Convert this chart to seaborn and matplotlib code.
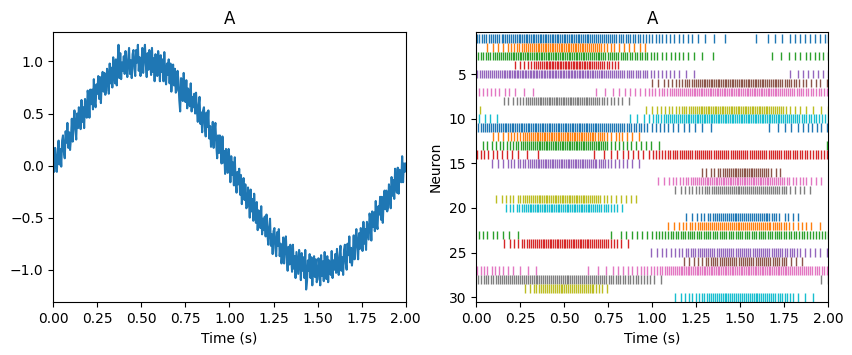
import numpy as np
import pandas as pd
import matplotlib
matplotlib.use("Agg")
import matplotlib.pyplot as plt
import seaborn as sns

# decoded value of ensemble A, every 5 ms (0.000 .. 2.000 s)
signal = [
    0.00, -0.06, 0.17, 0.03, -0.06, 0.14, 0.24, 0.01, 0.16, -0.01,
    0.24, 0.29, 0.13, 0.07, 0.33, 0.22, 0.41, 0.17, 0.32, 0.15,
    0.26, 0.45, 0.23, 0.42, 0.53, 0.35, 0.25, 0.50, 0.36, 0.56,
    0.47, 0.35, 0.63, 0.42, 0.56, 0.36, 0.64, 0.56, 0.46, 0.72,
    0.65, 0.46, 0.73, 0.59, 0.73, 0.54, 0.83, 0.61, 0.56, 0.78,
    0.69, 0.86, 0.64, 0.85, 0.60, 0.80, 0.90, 0.71, 0.89, 0.68,
    0.72, 0.93, 0.86, 0.69, 0.98, 0.79, 0.94, 0.75, 1.04, 0.87,
    0.79, 1.02, 0.77, 0.98, 1.16, 0.84, 1.08, 0.83, 0.99, 0.91,
    1.05, 0.88, 1.10, 0.95, 0.85, 1.03, 1.13, 0.88, 1.01, 0.84,
    1.07, 1.11, 0.93, 0.86, 1.11, 0.99, 1.16, 0.91, 1.04, 0.86,
    0.95, 1.13, 0.89, 1.07, 1.16, 0.97, 0.85, 1.08, 0.92, 1.11,
    1.01, 0.87, 1.13, 0.90, 1.03, 0.81, 1.07, 0.98, 0.86, 1.10,
    1.01, 0.81, 1.06, 0.90, 1.02, 0.81, 1.09, 0.85, 0.78, 0.98,
    0.87, 1.02, 0.79, 0.98, 0.71, 0.89, 0.97, 0.77, 0.93, 0.70,
    0.72, 0.91, 0.82, 0.63, 0.52, 0.84, 0.83, 0.62, 0.89, 0.71,
    0.61, 0.82, 0.55, 0.74, 0.68, 0.57, 0.79, 0.52, 0.66, 0.56,
    0.69, 0.50, 0.70, 0.53, 0.42, 0.58, 0.66, 0.40, 0.51, 0.32,
    0.53, 0.56, 0.37, 0.28, 0.51, 0.37, 0.53, 0.26, 0.38, 0.18,
    0.26, 0.42, 0.17, 0.33, 0.41, 0.20, 0.07, 0.29, 0.12, 0.29,
    0.18, 0.02, 0.28, 0.03, 0.14, -0.08, 0.16, 0.06, -0.07, 0.16,
    0.06, -0.16, 0.09, -0.09, 0.03, -0.19, 0.08, -0.17, -0.26, -0.06,
    -0.18, -0.03, -0.28, -0.09, -0.37, -0.19, -0.12, -0.33, -0.18, -0.41,
    -0.40, -0.21, -0.31, -0.50, -0.23, -0.44, -0.32, -0.53, -0.27, -0.45,
    -0.55, -0.35, -0.62, -0.43, -0.49, -0.60, -0.39, -0.66, -0.51, -0.62,
    -0.49, -0.68, -0.47, -0.65, -0.76, -0.59, -0.51, -0.77, -0.66, -0.85,
    -0.63, -0.60, -0.79, -0.87, -0.64, -0.77, -0.61, -0.87, -0.75, -0.94,
    -0.86, -0.69, -0.94, -0.77, -0.68, -0.88, -1.01, -0.78, -0.95, -0.76,
    -0.87, -1.02, -0.76, -0.99, -0.87, -1.08, -0.83, -0.93, -1.04, -0.81,
    -0.89, -1.10, -0.84, -1.01, -0.88, -1.08, -0.81, -1.19, -1.11, -0.91,
    -1.01, -0.85, -1.08, -0.88, -1.15, -0.96, -0.87, -1.07, -0.90, -1.12,
    -1.09, -0.89, -0.97, -1.15, -0.86, -1.06, -0.92, -1.11, -0.83, -1.00,
    -1.09, -0.87, -1.12, -0.91, -0.96, -1.05, -0.82, -1.08, -0.91, -1.00,
    -0.85, -1.03, -0.80, -0.96, -1.05, -0.86, -0.77, -1.01, -0.88, -1.05,
    -0.81, -0.76, -0.94, -1.00, -0.75, -0.86, -0.68, -0.93, -0.79, -0.96,
    -0.86, -0.67, -0.90, -0.71, -0.61, -0.79, -0.90, -0.65, -0.80, -0.60,
    -0.69, -0.82, -0.54, -0.75, -0.61, -0.81, -0.54, -0.62, -0.71, -0.46,
    -0.53, -0.72, -0.44, -0.59, -0.45, -0.63, -0.34, -0.56, -0.61, -0.39,
    -0.47, -0.30, -0.52, -0.30, -0.55, -0.34, -0.24, -0.42, -0.24, -0.44,
    -0.40, -0.18, -0.25, -0.41, -0.11, -0.29, -0.14, -0.32, -0.03, -0.18,
    -0.26, -0.02, -0.27, -0.04, -0.07, -0.16, 0.09, -0.16, 0.02, -0.06,
    0.02,
]

# spike times in ms for neurons 1..30 of the raster (right panel)
n01 = [5, 19, 33, 46, 59, 72, 85, 97, 109, 121, 133, 145, 156, 167, 178, 189, 200, 211, 222, 232, 242, 252, 262, 272, 282, 292, 302, 312, 322, 332, 342, 351, 361, 371, 381, 390, 400, 410, 420, 429, 439, 449, 459, 468, 478, 488, 498, 507, 517, 527, 537, 547, 557, 567, 577, 587, 597, 607, 617, 628, 638, 648, 659, 670, 681, 692, 703, 714, 725, 737, 749, 761, 773, 785, 797, 810, 823, 836, 849, 862, 876, 890, 904, 918, 933, 948, 963, 982, 1001, 1020, 1039, 1058, 1081, 1100, 1125, 1153, 1176, 1201, 1229, 1258, 1301, 1353, 1415, 1590, 1657, 1695, 1739, 1780, 1809, 1837, 1866, 1894, 1923, 1951, 1980, 1998]
n02 = [65, 99, 127, 156, 179, 198, 217, 232, 246, 260, 272, 284, 295, 306, 317, 328, 339, 350, 360, 370, 380, 390, 400, 410, 420, 430, 440, 450, 460, 470, 480, 490, 500, 510, 520, 530, 540, 550, 560, 570, 580, 590, 600, 610, 620, 630, 641, 652, 663, 674, 686, 698, 710, 726, 745, 764, 783, 812, 840, 869, 897, 930, 960]
n03 = [12, 27, 41, 55, 68, 81, 94, 106, 118, 130, 142, 153, 164, 175, 186, 197, 208, 218, 228, 238, 248, 258, 268, 278, 288, 298, 308, 318, 328, 338, 348, 358, 368, 377, 387, 397, 407, 417, 427, 437, 447, 457, 466, 476, 486, 496, 506, 516, 526, 536, 546, 556, 566, 576, 586, 596, 606, 616, 626, 636, 646, 657, 668, 679, 690, 701, 712, 723, 735, 747, 759, 771, 783, 795, 808, 821, 834, 847, 860, 874, 888, 902, 916, 930, 944, 958, 972, 991, 1011, 1030, 1054, 1077, 1106, 1130, 1153, 1176, 1206, 1239, 1286, 1343, 1682, 1733, 1777, 1809, 1841, 1872, 1895, 1923, 1948, 1971, 1998]
n04 = [222, 251, 270, 293, 315, 328, 341, 353, 364, 375, 385, 395, 404, 413, 422, 431, 440, 449, 458, 467, 476, 485, 494, 503, 512, 521, 530, 539, 548, 557, 566, 575, 584, 593, 602, 611, 620, 630, 640, 650, 660, 671, 682, 693, 705, 717, 729, 742, 756, 770, 787, 808]
n05 = [8, 21, 34, 46, 58, 70, 82, 93, 104, 115, 126, 137, 147, 157, 167, 177, 187, 196, 205, 214, 223, 232, 241, 250, 259, 268, 277, 286, 295, 304, 313, 322, 331, 340, 349, 358, 367, 376, 385, 394, 403, 412, 421, 430, 439, 448, 457, 466, 475, 484, 493, 502, 511, 520, 529, 538, 547, 556, 565, 574, 583, 592, 601, 610, 619, 628, 637, 647, 657, 667, 677, 687, 697, 707, 717, 728, 739, 750, 761, 772, 783, 795, 807, 819, 831, 843, 855, 868, 881, 894, 907, 920, 933, 946, 959, 972, 991, 1011, 1035, 1054, 1077, 1100, 1125, 1153, 1191, 1239, 1780, 1828, 1857, 1885, 1914, 1942, 1971, 1998]
n06 = [1001, 1035, 1068, 1092, 1115, 1135, 1153, 1169, 1184, 1198, 1211, 1224, 1236, 1248, 1259, 1270, 1281, 1292, 1302, 1312, 1322, 1332, 1342, 1352, 1362, 1372, 1382, 1392, 1402, 1412, 1422, 1432, 1442, 1452, 1462, 1472, 1482, 1492, 1502, 1512, 1522, 1532, 1542, 1552, 1562, 1572, 1582, 1592, 1602, 1612, 1622, 1632, 1642, 1652, 1662, 1673, 1684, 1695, 1706, 1717, 1728, 1740, 1752, 1764, 1777, 1790, 1804, 1819, 1835, 1854, 1876, 1904, 1933, 1955, 1990]
n07 = [17, 38, 61, 84, 108, 133, 162, 190, 222, 270, 321, 679, 732, 779, 812, 844, 873, 901, 932, 958, 980, 1000, 1019, 1037, 1054, 1070, 1085, 1099, 1112, 1125, 1137, 1149, 1161, 1172, 1183, 1194, 1205, 1216, 1226, 1236, 1246, 1256, 1266, 1276, 1286, 1296, 1306, 1316, 1326, 1336, 1346, 1356, 1366, 1376, 1386, 1396, 1406, 1416, 1426, 1436, 1446, 1456, 1466, 1476, 1486, 1496, 1506, 1516, 1526, 1536, 1546, 1556, 1566, 1576, 1586, 1596, 1606, 1616, 1626, 1636, 1646, 1656, 1666, 1676, 1686, 1696, 1706, 1717, 1728, 1739, 1750, 1761, 1772, 1784, 1796, 1808, 1820, 1833, 1846, 1859, 1872, 1886, 1900, 1915, 1930, 1945, 1961, 1977, 1994]
n08 = [160, 184, 209, 232, 251, 268, 283, 296, 308, 320, 331, 342, 352, 362, 372, 382, 392, 402, 412, 422, 432, 442, 452, 462, 472, 482, 492, 502, 512, 522, 532, 542, 552, 562, 572, 582, 592, 602, 612, 622, 632, 643, 654, 665, 676, 688, 700, 713, 727, 745, 764, 783, 806, 831, 869]
n09 = [23, 963, 997, 1026, 1049, 1073, 1096, 1115, 1134, 1153, 1168, 1182, 1195, 1208, 1220, 1232, 1243, 1254, 1265, 1275, 1285, 1295, 1305, 1315, 1325, 1335, 1345, 1355, 1365, 1375, 1385, 1395, 1405, 1415, 1425, 1435, 1445, 1455, 1465, 1475, 1485, 1495, 1505, 1515, 1525, 1535, 1545, 1555, 1565, 1575, 1585, 1595, 1605, 1615, 1625, 1635, 1645, 1655, 1665, 1675, 1686, 1697, 1708, 1720, 1732, 1745, 1762, 1780, 1809, 1837, 1876, 1914, 1961, 1999]
n10 = [19, 51, 80, 122, 875, 916, 954, 983, 1003, 1020, 1036, 1051, 1065, 1078, 1091, 1103, 1115, 1127, 1138, 1149, 1160, 1171, 1182, 1192, 1202, 1212, 1222, 1232, 1242, 1252, 1262, 1272, 1282, 1292, 1302, 1312, 1322, 1332, 1342, 1352, 1362, 1372, 1382, 1392, 1402, 1412, 1422, 1432, 1442, 1452, 1462, 1472, 1482, 1492, 1502, 1512, 1522, 1532, 1542, 1552, 1562, 1572, 1582, 1592, 1602, 1612, 1622, 1632, 1642, 1652, 1662, 1672, 1682, 1692, 1702, 1712, 1722, 1733, 1744, 1755, 1766, 1777, 1788, 1800, 1812, 1824, 1836, 1849, 1862, 1875, 1889, 1903, 1918, 1933, 1949, 1965, 1982, 1998]
n11 = [13, 26, 38, 50, 62, 74, 86, 97, 108, 119, 130, 141, 152, 163, 173, 183, 193, 203, 213, 223, 233, 243, 253, 263, 273, 283, 293, 303, 313, 323, 333, 343, 353, 363, 373, 383, 393, 403, 413, 423, 433, 443, 453, 463, 473, 483, 493, 503, 513, 523, 533, 543, 553, 563, 573, 583, 593, 603, 613, 623, 633, 643, 653, 663, 673, 684, 695, 706, 717, 728, 739, 750, 761, 772, 783, 795, 807, 819, 831, 843, 856, 869, 882, 895, 909, 923, 938, 954, 972, 997, 1020, 1043, 1068, 1092, 1119, 1149, 1182, 1210, 1244, 1286, 1334, 1663, 1714, 1752, 1790, 1828, 1857, 1885, 1910, 1936, 1961, 1990]
n12 = [99, 127, 156, 179, 198, 217, 232, 251, 266, 279, 291, 302, 313, 324, 334, 344, 354, 364, 374, 384, 394, 404, 414, 424, 434, 444, 454, 464, 474, 484, 494, 504, 514, 524, 534, 544, 554, 564, 574, 584, 594, 604, 614, 624, 634, 645, 656, 667, 678, 690, 702, 714, 726, 745, 764, 793, 812, 831, 859, 888, 926]
n13 = [38, 65, 89, 114, 137, 156, 175, 194, 211, 226, 240, 253, 266, 278, 290, 301, 312, 323, 334, 345, 356, 366, 376, 386, 396, 406, 416, 426, 436, 446, 456, 466, 476, 486, 496, 506, 516, 526, 536, 546, 556, 566, 576, 586, 596, 606, 616, 626, 636, 646, 657, 668, 679, 690, 701, 712, 723, 734, 745, 764, 787, 812, 837, 859, 882, 907, 935, 964, 991, 1039, 1990]
n14 = [8, 27, 46, 70, 95, 118, 146, 175, 203, 241, 289, 350, 669, 726, 764, 802, 836, 863, 894, 920, 951, 983, 1004, 1023, 1041, 1058, 1074, 1089, 1103, 1117, 1130, 1143, 1156, 1169, 1181, 1193, 1205, 1217, 1229, 1241, 1253, 1265, 1277, 1289, 1301, 1313, 1325, 1337, 1349, 1361, 1373, 1385, 1397, 1409, 1421, 1433, 1445, 1457, 1469, 1481, 1493, 1505, 1517, 1529, 1541, 1553, 1565, 1577, 1589, 1601, 1613, 1625, 1637, 1649, 1661, 1673, 1685, 1697, 1709, 1721, 1733, 1746, 1759, 1772, 1785, 1798, 1811, 1825, 1839, 1853, 1867, 1882, 1897, 1912, 1928, 1944, 1960, 1977, 1994]
n15 = [89, 127, 152, 179, 198, 217, 236, 251, 266, 280, 293, 305, 317, 328, 339, 350, 360, 370, 380, 390, 400, 410, 420, 430, 440, 450, 460, 470, 480, 490, 500, 510, 520, 530, 540, 550, 560, 570, 580, 590, 600, 610, 620, 630, 640, 651, 662, 673, 684, 696, 708, 720, 733, 748, 764, 787, 812, 837, 859, 888, 926]
n16 = [1282, 1305, 1334, 1353, 1372, 1388, 1402, 1415, 1427, 1438, 1449, 1459, 1469, 1479, 1489, 1499, 1509, 1519, 1529, 1539, 1549, 1559, 1569, 1579, 1589, 1599, 1610, 1621, 1633, 1645, 1659, 1676, 1701, 1724]
n17 = [1035, 1068, 1096, 1119, 1138, 1157, 1176, 1191, 1206, 1220, 1233, 1245, 1257, 1268, 1279, 1290, 1300, 1310, 1320, 1330, 1340, 1350, 1360, 1370, 1380, 1390, 1400, 1410, 1420, 1430, 1440, 1450, 1460, 1470, 1480, 1490, 1500, 1510, 1520, 1530, 1540, 1550, 1560, 1570, 1580, 1590, 1600, 1610, 1620, 1630, 1640, 1650, 1660, 1671, 1682, 1693, 1704, 1715, 1727, 1739, 1751, 1764, 1778, 1800, 1818, 1837, 1856, 1876, 1904, 1933, 1961]
n18 = [1130, 1163, 1187, 1210, 1229, 1248, 1267, 1282, 1298, 1312, 1325, 1338, 1350, 1362, 1374, 1386, 1397, 1408, 1419, 1430, 1441, 1452, 1463, 1474, 1485, 1496, 1507, 1518, 1529, 1540, 1551, 1562, 1573, 1584, 1595, 1606, 1617, 1628, 1639, 1650, 1661, 1673, 1685, 1697, 1710, 1723, 1737, 1749, 1761, 1780, 1809, 1837, 1860, 1898]
n19 = [114, 146, 171, 194, 213, 236, 251, 266, 279, 291, 303, 314, 325, 336, 346, 356, 366, 376, 386, 396, 406, 416, 426, 436, 446, 456, 466, 476, 486, 496, 506, 516, 526, 536, 546, 556, 566, 576, 586, 596, 606, 616, 626, 637, 648, 659, 670, 682, 694, 706, 726, 745, 764, 793, 821, 850, 878, 907]
n20 = [171, 194, 213, 232, 247, 260, 272, 283, 294, 304, 314, 324, 334, 344, 354, 364, 374, 384, 394, 404, 414, 424, 434, 444, 454, 464, 474, 484, 494, 504, 514, 524, 534, 544, 554, 564, 574, 584, 594, 604, 614, 624, 634, 644, 655, 666, 677, 688, 700, 712, 724, 737, 750, 764, 783, 802, 831]
n21 = [1195, 1225, 1252, 1277, 1296, 1315, 1328, 1343, 1356, 1368, 1380, 1391, 1402, 1413, 1424, 1435, 1446, 1457, 1468, 1479, 1490, 1501, 1512, 1523, 1534, 1545, 1556, 1567, 1578, 1589, 1600, 1611, 1622, 1633, 1644, 1655, 1666, 1678, 1690, 1705, 1723, 1752, 1771, 1800, 1828]
n22 = [1092, 1125, 1153, 1176, 1195, 1214, 1229, 1244, 1258, 1271, 1284, 1296, 1308, 1320, 1331, 1342, 1353, 1364, 1375, 1386, 1397, 1408, 1419, 1430, 1441, 1452, 1463, 1474, 1485, 1496, 1507, 1518, 1529, 1540, 1551, 1562, 1573, 1584, 1595, 1606, 1617, 1628, 1639, 1650, 1661, 1672, 1684, 1696, 1708, 1720, 1733, 1746, 1760, 1776, 1800, 1828, 1853, 1876, 1904, 1952]
n23 = [19, 42, 65, 95, 122, 152, 190, 241, 768, 821, 850, 888, 916, 945, 973, 999, 1020, 1039, 1057, 1074, 1090, 1105, 1120, 1134, 1148, 1162, 1175, 1188, 1201, 1214, 1227, 1240, 1253, 1266, 1279, 1292, 1305, 1318, 1331, 1344, 1357, 1370, 1383, 1396, 1409, 1422, 1435, 1448, 1461, 1474, 1487, 1500, 1513, 1526, 1539, 1552, 1565, 1578, 1591, 1604, 1617, 1630, 1643, 1656, 1669, 1682, 1695, 1708, 1721, 1734, 1748, 1762, 1776, 1790, 1804, 1819, 1834, 1849, 1864, 1880, 1896, 1912, 1929, 1946, 1963, 1981, 1998]
n24 = [160, 194, 217, 241, 260, 274, 289, 302, 314, 326, 337, 348, 358, 368, 378, 388, 398, 408, 418, 428, 438, 448, 458, 468, 478, 488, 498, 508, 518, 528, 538, 548, 558, 568, 578, 588, 598, 608, 618, 628, 638, 648, 659, 670, 681, 692, 704, 716, 728, 740, 752, 764, 783, 802, 825, 863]
n25 = [991, 1030, 1058, 1081, 1106, 1130, 1153, 1172, 1191, 1206, 1220, 1233, 1246, 1258, 1270, 1282, 1294, 1306, 1318, 1330, 1342, 1354, 1366, 1378, 1390, 1402, 1414, 1426, 1438, 1450, 1462, 1474, 1486, 1498, 1510, 1522, 1534, 1546, 1558, 1570, 1582, 1594, 1606, 1618, 1630, 1642, 1654, 1666, 1678, 1690, 1702, 1714, 1727, 1740, 1753, 1766, 1780, 1794, 1808, 1822, 1837, 1866, 1895, 1923, 1952, 1990]
n26 = [1182, 1210, 1239, 1263, 1286, 1305, 1320, 1334, 1347, 1359, 1371, 1383, 1395, 1407, 1419, 1431, 1443, 1455, 1467, 1479, 1491, 1503, 1515, 1527, 1539, 1551, 1563, 1575, 1587, 1599, 1611, 1623, 1635, 1647, 1659, 1671, 1684, 1697, 1710, 1723, 1737, 1748, 1761, 1790, 1818, 1853]
n27 = [8, 27, 46, 65, 89, 108, 133, 156, 184, 213, 251, 293, 342, 635, 692, 736, 779, 806, 836, 863, 888, 913, 935, 954, 973, 992, 1010, 1027, 1043, 1058, 1072, 1085, 1097, 1109, 1120, 1131, 1142, 1152, 1162, 1172, 1182, 1192, 1202, 1212, 1222, 1232, 1242, 1252, 1262, 1272, 1282, 1292, 1302, 1312, 1322, 1332, 1342, 1352, 1362, 1372, 1382, 1392, 1402, 1412, 1422, 1432, 1442, 1452, 1462, 1472, 1482, 1492, 1502, 1512, 1522, 1532, 1542, 1552, 1562, 1572, 1582, 1592, 1602, 1612, 1622, 1632, 1642, 1652, 1662, 1672, 1682, 1692, 1702, 1712, 1722, 1732, 1742, 1752, 1762, 1772, 1782, 1793, 1804, 1815, 1826, 1837, 1849, 1861, 1873, 1885, 1897, 1910, 1923, 1936, 1950, 1964, 1978, 1993]
n28 = [13, 28, 43, 57, 71, 85, 98, 111, 124, 136, 148, 160, 172, 184, 195, 206, 217, 228, 239, 250, 261, 272, 283, 294, 305, 316, 327, 338, 349, 360, 371, 382, 393, 404, 415, 426, 437, 448, 459, 470, 481, 492, 503, 514, 525, 536, 547, 558, 569, 580, 591, 602, 613, 624, 635, 646, 657, 669, 681, 693, 705, 717, 729, 741, 754, 767, 780, 793, 806, 820, 834, 848, 862, 877, 892, 907, 922, 938, 954, 970, 986, 1011, 1049, 1961, 1998]
n29 = [279, 304, 327, 342, 356, 369, 381, 392, 403, 414, 425, 436, 447, 458, 469, 480, 491, 502, 513, 524, 535, 546, 557, 568, 579, 590, 601, 612, 623, 634, 645, 656, 667, 679, 698, 717, 745]
n30 = [1130, 1163, 1187, 1210, 1229, 1248, 1267, 1282, 1296, 1309, 1321, 1333, 1345, 1356, 1367, 1378, 1389, 1400, 1411, 1422, 1433, 1444, 1455, 1466, 1477, 1488, 1499, 1510, 1521, 1532, 1543, 1554, 1565, 1576, 1587, 1598, 1609, 1620, 1631, 1642, 1653, 1664, 1676, 1688, 1700, 1712, 1725, 1738, 1752, 1767, 1783, 1800, 1828, 1866, 1914]

spike_trains = [n01, n02, n03, n04, n05, n06, n07, n08, n09, n10,
                n11, n12, n13, n14, n15, n16, n17, n18, n19, n20,
                n21, n22, n23, n24, n25, n26, n27, n28, n29, n30]


def main():
    df = pd.DataFrame({"t": np.linspace(0.0, 2.0, len(signal)), "value": signal})

    fig = plt.figure(figsize=(8.53, 3.55), dpi=100)
    ax1 = fig.add_axes([0.0625, 0.1493, 0.4131, 0.7597])
    ax2 = fig.add_axes([0.558, 0.1493, 0.413, 0.7597])

    # left: decoded signal
    sns.lineplot(data=df, x="t", y="value", ax=ax1, color="#1f77b4",
                 linewidth=1.5, errorbar=None)
    ax1.set_xlim(0, 2)
    ax1.set_ylim(-1.31, 1.28)
    ax1.set_title("A")
    ax1.set_xlabel("Time (s)")
    ax1.set_ylabel("")

    # right: spike raster, colours cycle through tab10
    palette = sns.color_palette("tab10", 10)
    colors = [palette[i % 10] for i in range(len(spike_trains))]
    positions = [np.array(s) / 1000.0 for s in spike_trains]
    ax2.eventplot(positions, lineoffsets=np.arange(1, len(spike_trains) + 1),
                  linelengths=0.95, linewidths=1.0, colors=colors)
    ax2.set_xlim(0, 2)
    ax2.set_ylim(30.53, 0.32)
    ax2.set_yticks([5, 10, 15, 20, 25, 30])
    ax2.set_xticks(np.arange(0, 2.01, 0.25))
    ax2.set_title("A")
    ax2.set_xlabel("Time (s)")
    ax2.set_ylabel("Neuron")

    fig.savefig("out.png", dpi=100)
    plt.close(fig)


if __name__ == "__main__":
    main()
